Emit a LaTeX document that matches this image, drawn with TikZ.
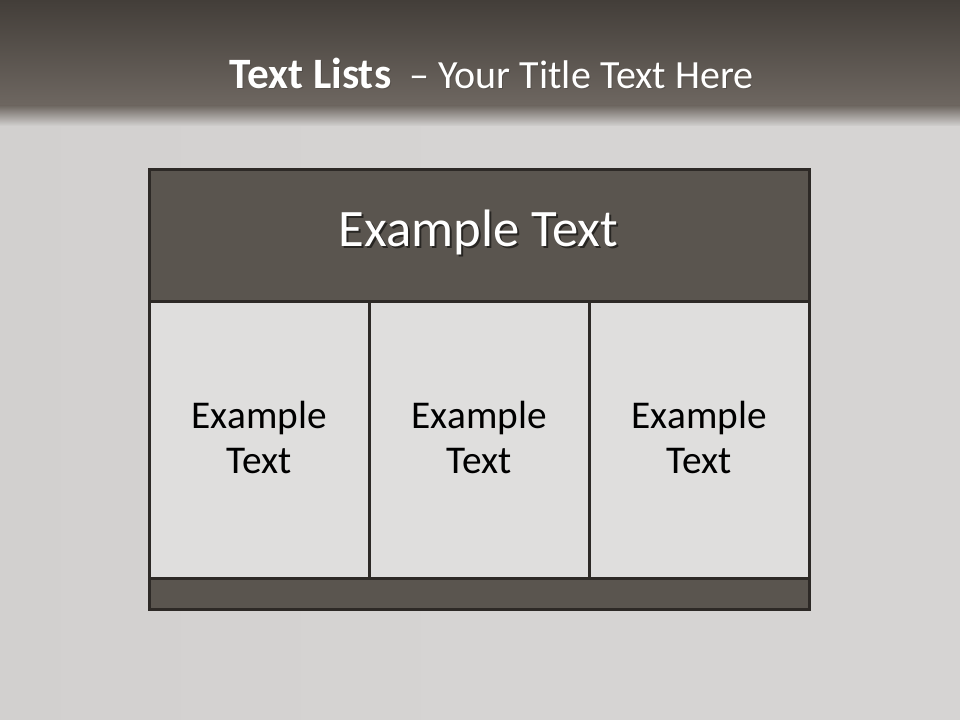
\documentclass[tikz,border=0pt]{standalone}
\usepackage{fontspec}
\setmainfont{Carlito}
\definecolor{bgl}{HTML}{D2D0CF}
\definecolor{bgl2}{HTML}{D6D4D3}
\definecolor{bandtop}{HTML}{433E39}
\definecolor{bandbot}{HTML}{6E6761}
\definecolor{hdr}{HTML}{5A554F}
\definecolor{cellc}{HTML}{DFDEDD}
\definecolor{edge}{HTML}{2D2926}
\tikzset{
  frame/.style={draw=edge, line width=1.9pt, inner sep=0pt, anchor=north west},
  hdrbox/.style={frame, fill=hdr, minimum width=495pt, minimum height=99pt},
  footbox/.style={frame, fill=hdr, minimum width=495pt, minimum height=23.25pt},
  cellbox/.style={frame, fill=cellc, minimum width=165pt, minimum height=207.75pt},
  celltext/.style={font=\fontsize{29.5}{34}\selectfont, align=center, text=black},
  titlefont/.style={font=\fontsize{30}{37}\selectfont, anchor=base},
  hdrfont/.style={font=\fontsize{39.5}{46}\selectfont, anchor=base},
}
\newcommand{\titletext}{{\fontsize{32.5}{37}\selectfont\textbf{Text Lists}}\ \ – Your Title Text Here}
\begin{document}
\begin{tikzpicture}[x=0.75pt,y=-0.75pt]
\useasboundingbox (0,0) rectangle (960,720);
% background
\fill[bgl] (0,0) rectangle (960,720);
\shade[left color=bgl, right color=bgl2, middle color=bgl2] (0,120) rectangle (960,720);
\shade[top color=bandtop, bottom color=bandbot] (0,0) rectangle (960,106);
\shade[top color=bandbot, bottom color=bgl] (0,105.5) rectangle (960,126);
% title
\node[titlefont, text=black, opacity=0.15] at (492.5,89.5) {\titletext};
\node[titlefont, text=white] (title) at (491.5,88.5) {\titletext};
% table
\node[hdrbox] (hdr) at (148,168) {};
\node[hdrfont, text=black, opacity=0.55] at (480.5,249) {Example Text};
\node[hdrfont, text=white] (hdrtext) at (478.5,247) {Example Text};
\node[cellbox] (c1) at (148,300) {};
\node[cellbox] (c2) at (368,300) {};
\node[cellbox] (c3) at (588,300) {};
\node[celltext] (t1) at ([yshift=1.5pt]c1.center) {Example\\Text};
\node[celltext] (t2) at ([yshift=1.5pt]c2.center) {Example\\Text};
\node[celltext] (t3) at ([yshift=1.5pt]c3.center) {Example\\Text};
\node[footbox] (foot) at (148,577) {};
\end{tikzpicture}
\end{document}
